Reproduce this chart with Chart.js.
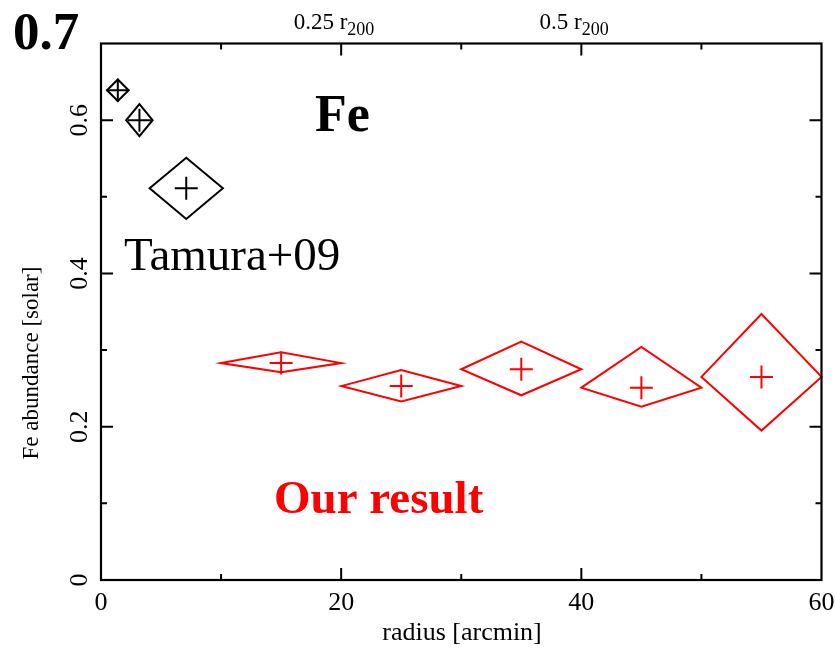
<!DOCTYPE html>
<html>
<head>
<meta charset="utf-8">
<script src="https://cdn.jsdelivr.net/npm/chart.js@4/dist/chart.umd.min.js"></script>
<style>
  html, body { margin: 0; padding: 0; background: #fff; }
  canvas { display: block; }
</style>
</head>
<body>
<canvas id="c" width="835" height="648"></canvas>
<script>
// Tamura+09 central profile
const tamuraRadius = [1.4, 3.2, 7.1];
const tamuraRadiusErr = [0.9, 1.1, 3.05];
const tamuraFe = [0.639, 0.600, 0.511];
const tamuraFeErrUp = [0.014, 0.021, 0.040];
const tamuraFeErrDown = [0.014, 0.021, 0.040];

// Outer annuli (this work)
const oursRadius = [15, 25, 35, 45, 55];
const oursRadiusErr = [5, 5, 5, 5, 5];
const oursFe = [0.283, 0.253, 0.275, 0.251, 0.265];
const oursFeErrUp = [0.014, 0.021, 0.036, 0.053, 0.082];
const oursFeErrDown = [0.012, 0.020, 0.034, 0.025, 0.070];

// Axis ticks
const xMajorTicks = [0, 20, 40, 60];
const xMinorTicks = [10, 30, 50];
const yMajorTicks = [0, 0.2, 0.4, 0.6];
const yMinorTicks = [0.1, 0.3, 0.5];
const yTopLabel = '0.7';

// r200 markers along the top axis
const r200Radius = [19.4, 39.4];
const r200Labels = ['0.25', '0.5'];

const SERIF = '"Liberation Serif", "Times New Roman", serif';

function points(xs, ys) {
  return xs.map((x, i) => ({ x: x, y: ys[i] }));
}

const diamondPlugin = {
  id: 'diamonds',
  beforeDatasetsDraw(chart) {
    const ctx = chart.ctx;
    const xs = chart.scales.x, ys = chart.scales.y;
    chart.data.datasets.forEach(ds => {
      const e = ds.errors;
      ctx.save();
      ctx.strokeStyle = ds.borderColor;
      ctx.lineWidth = 2;
      ctx.lineJoin = 'miter';
      ds.data.forEach((p, i) => {
        const xl = xs.getPixelForValue(p.x - e.xerr[i]);
        const xr = xs.getPixelForValue(p.x + e.xerr[i]);
        const xc = xs.getPixelForValue(p.x);
        const yc = ys.getPixelForValue(p.y);
        const yt = ys.getPixelForValue(p.y + e.up[i]);
        const yb = ys.getPixelForValue(p.y - e.down[i]);
        ctx.beginPath();
        ctx.moveTo(xl, yc);
        ctx.lineTo(xc, yt);
        ctx.lineTo(xr, yc);
        ctx.lineTo(xc, yb);
        ctx.closePath();
        ctx.stroke();
      });
      ctx.restore();
    });
  }
};

const framePlugin = {
  id: 'frame',
  afterDraw(chart) {
    const ctx = chart.ctx;
    const a = chart.chartArea;
    const xs = chart.scales.x, ys = chart.scales.y;
    ctx.save();
    ctx.strokeStyle = '#000';
    ctx.lineWidth = 2.2;
    ctx.strokeRect(a.left, a.top, a.right - a.left, a.bottom - a.top);

    ctx.lineWidth = 2;
    const major = 12, minor = 6;
    ctx.beginPath();
    xMajorTicks.concat(xMinorTicks).forEach(v => {
      if (v <= xs.min || v >= xs.max) return;
      const len = xMajorTicks.includes(v) ? major : minor;
      const px = xs.getPixelForValue(v);
      ctx.moveTo(px, a.bottom); ctx.lineTo(px, a.bottom - len);
      ctx.moveTo(px, a.top); ctx.lineTo(px, a.top + len);
    });
    yMajorTicks.concat(yMinorTicks).forEach(v => {
      if (v <= ys.min || v >= ys.max) return;
      const len = yMajorTicks.includes(v) ? major : minor;
      const py = ys.getPixelForValue(v);
      ctx.moveTo(a.left, py); ctx.lineTo(a.left + len, py);
      ctx.moveTo(a.right, py); ctx.lineTo(a.right - len, py);
    });
    ctx.stroke();

    ctx.fillStyle = '#000';
    // x tick labels
    ctx.font = '26px ' + SERIF;
    ctx.textAlign = 'center';
    ctx.textBaseline = 'alphabetic';
    xMajorTicks.forEach(v => {
      ctx.fillText(String(v), xs.getPixelForValue(v), 610);
    });
    // x title
    ctx.font = '26px ' + SERIF;
    ctx.fillText('radius [arcmin]', 462, 640);

    // y tick labels (rotated)
    ctx.font = '26px ' + SERIF;
    yMajorTicks.forEach(v => {
      ctx.save();
      ctx.translate(87, ys.getPixelForValue(v));
      ctx.rotate(-Math.PI / 2);
      ctx.fillText(v === 0 ? '0' : v.toFixed(1), 0, 0);
      ctx.restore();
    });
    // y title
    ctx.save();
    ctx.font = '23px ' + SERIF;
    ctx.translate(38, 363);
    ctx.rotate(-Math.PI / 2);
    ctx.fillText('Fe abundance [solar]', 0, 0);
    ctx.restore();

    // top value of the y range
    ctx.textAlign = 'left';
    ctx.font = 'bold 53px ' + SERIF;
    ctx.fillText(yTopLabel, 13, 49);

    // r200 markers on the top axis
    r200Labels.forEach((lab, i) => {
      const main = lab + ' r';
      ctx.font = '23px ' + SERIF;
      const w1 = ctx.measureText(main).width;
      ctx.font = '18px ' + SERIF;
      const w2 = ctx.measureText('200').width;
      const cx = xs.getPixelForValue(r200Radius[i]);
      const x0 = cx - (w1 + w2) / 2;
      ctx.font = '23px ' + SERIF;
      ctx.fillText(main, x0, 29);
      ctx.font = '18px ' + SERIF;
      ctx.fillText('200', x0 + w1, 35);
    });

    // panel annotations
    ctx.font = 'bold 52px ' + SERIF;
    ctx.fillText('Fe', 315, 131);
    ctx.font = '47px ' + SERIF;
    ctx.fillText('Tamura+09', 124, 270);
    ctx.fillStyle = '#ff0000';
    ctx.font = 'bold 47px ' + SERIF;
    ctx.fillText('Our result', 274, 513);
    ctx.restore();
  }
};

new Chart(document.getElementById('c'), {
  type: 'scatter',
  data: {
    datasets: [
      {
        label: 'Tamura+09',
        data: points(tamuraRadius, tamuraFe),
        errors: { xerr: tamuraRadiusErr, up: tamuraFeErrUp, down: tamuraFeErrDown },
        borderColor: '#000000',
        backgroundColor: '#000000',
        pointStyle: 'cross',
        pointRadius: 11.5,
        pointHoverRadius: 11.5,
        borderWidth: 2
      },
      {
        label: 'Our result',
        data: points(oursRadius, oursFe),
        errors: { xerr: oursRadiusErr, up: oursFeErrUp, down: oursFeErrDown },
        borderColor: '#ff0000',
        backgroundColor: '#ff0000',
        pointStyle: 'cross',
        pointRadius: 11.5,
        pointHoverRadius: 11.5,
        borderWidth: 2
      }
    ]
  },
  options: {
    responsive: false,
    animation: false,
    events: [],
    layout: { padding: { left: 101, right: 12, top: 43.5, bottom: 68 } },
    plugins: { legend: { display: false }, tooltip: { enabled: false } },
    scales: {
      x: { type: 'linear', min: 0, max: 60, display: false },
      y: { type: 'linear', min: 0, max: 0.7, display: false }
    }
  },
  plugins: [diamondPlugin, framePlugin]
});
</script>
</body>
</html>
